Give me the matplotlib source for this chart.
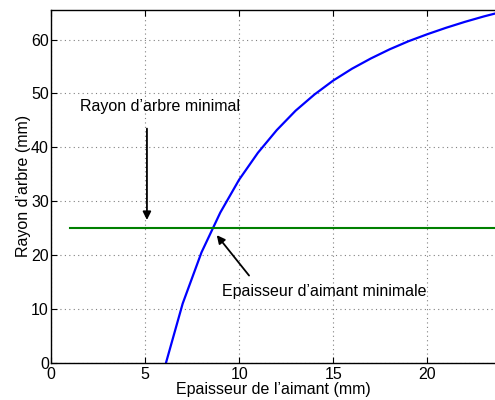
import numpy as np
import matplotlib.pyplot as plt

plt.rcParams['font.family'] = ['Liberation Sans', 'DejaVu Sans']
plt.rcParams['font.size'] = 11.5

# épaisseur de l'aimant (mm) et rayon d'arbre (mm)
epaisseur = [6, 7, 8, 9, 10, 11, 12, 13, 14, 15, 16, 17, 18, 19, 20, 21, 22, 23, 24]
rayon = [-1.4, 11.0, 20.5, 27.9, 34.0, 39.0, 43.2, 46.8, 49.8, 52.4, 54.6, 56.5,
         58.2, 59.7, 61.0, 62.2, 63.3, 64.3, 65.2]
rayon_min = 25
x_min_line = [1, 25]

fig = plt.figure(figsize=(4.95, 4.0), dpi=100)
ax = fig.add_axes([0.103, 0.093, 0.897, 0.882])

ax.plot(epaisseur, rayon, color='#0000ff', lw=1.6)
ax.plot(x_min_line, [rayon_min, rayon_min], color='#008000', lw=1.5)

ax.set_xlim(0, 23.6)
ax.set_ylim(0, 65.5)
ax.set_xticks([0, 5, 10, 15, 20])
ax.set_yticks([0, 10, 20, 30, 40, 50, 60])
ax.grid(True, linestyle=(0, (1, 3)), color='#808080', lw=0.8)
ax.tick_params(direction='in', length=4, top=True, right=False, pad=1.5)
ax.tick_params(axis='x', pad=3)
ax.spines['right'].set_visible(False)
for s in ['left', 'bottom', 'top']:
    ax.spines[s].set_linewidth(1.0)

ax.set_xlabel('Epaisseur de l’aimant (mm)', labelpad=0)
ax.set_ylabel('Rayon d’arbre (mm)', labelpad=0)

ax.annotate('', xy=(5.1, 26.0), xytext=(5.1, 44.0),
            arrowprops=dict(arrowstyle='-|>', color='k', lw=1.3, mutation_scale=12))
ax.text(5.8, 47.5, 'Rayon d’arbre minimal', ha='center', va='center')

ax.annotate('', xy=(8.72, 24.1), xytext=(10.62, 15.8),
            arrowprops=dict(arrowstyle='-|>', color='k', lw=1.3, mutation_scale=12))
ax.text(14.5, 13.2, 'Epaisseur d’aimant minimale', ha='center', va='center')

fig.savefig('out.png', dpi=100)
